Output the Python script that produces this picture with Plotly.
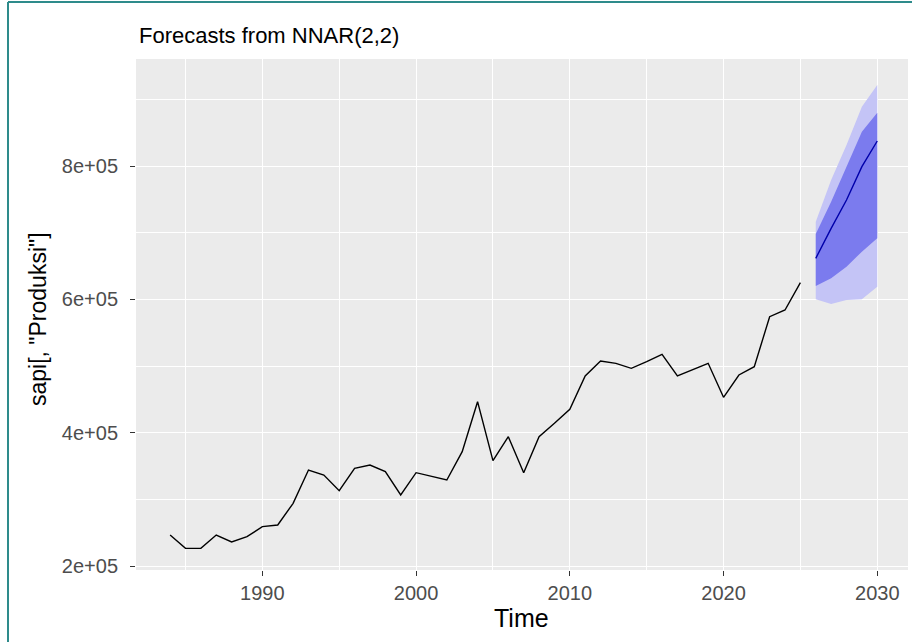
import plotly.graph_objects as go

# Historical series (sapi[, "Produksi"])
years = list(range(1984, 2026))
produksi = [246500, 226500, 226500, 246500, 236000, 244000, 259000, 261500, 294000, 344000,
            336500, 313000, 346500, 351500, 341500, 306500, 340000, 335000, 329000, 371500,
            446500, 358000, 394000, 340000, 394000, 414000, 435000, 485000, 507500, 504000,
            496500, 506500, 517500, 485000, 495000, 504000, 453000, 486500, 499000, 574000,
            584000, 625000]

# NNAR(2,2) forecasts
fc_years = [2026, 2027, 2028, 2029, 2030]
fc_mean = [661500, 706500, 749000, 799000, 837500]
lo80 = [620000, 631500, 649000, 671500, 691500]
hi80 = [698000, 746500, 799000, 851500, 880000]
lo95 = [600000, 593000, 599000, 600000, 619000]
hi95 = [716500, 779000, 831500, 889000, 921500]

y_ticks = [200000, 400000, 600000, 800000]
y_labels = ["2e+05", "4e+05", "6e+05", "8e+05"]
x_ticks = [1990, 2000, 2010, 2020, 2030]

FONT = "Liberation Sans, Arial, sans-serif"
LIGHT = "#C4C4F6"
DARK = "#7B7BEE"

W, H = 912, 642
L, R, T, B = 136, 4, 59, 72
PW, PH = W - L - R, H - T - B

fig = go.Figure()
fig.add_trace(go.Scatter(x=fc_years, y=lo95, mode="lines", line=dict(width=0),
                         showlegend=False, hoverinfo="skip"))
fig.add_trace(go.Scatter(x=fc_years, y=hi95, mode="lines", line=dict(width=0),
                         fill="tonexty", fillcolor=LIGHT, showlegend=False, hoverinfo="skip"))
fig.add_trace(go.Scatter(x=fc_years, y=lo80, mode="lines", line=dict(width=0),
                         showlegend=False, hoverinfo="skip"))
fig.add_trace(go.Scatter(x=fc_years, y=hi80, mode="lines", line=dict(width=0),
                         fill="tonexty", fillcolor=DARK, showlegend=False, hoverinfo="skip"))
fig.add_trace(go.Scatter(x=years, y=produksi, mode="lines",
                         line=dict(color="black", width=1.4), showlegend=False))
fig.add_trace(go.Scatter(x=fc_years, y=fc_mean, mode="lines",
                         line=dict(color="#0000AA", width=1.4), showlegend=False))

fig.update_layout(
    width=W, height=H,
    margin=dict(l=L, r=R, t=T, b=B, autoexpand=False),
    paper_bgcolor="white",
    plot_bgcolor="#EBEBEB",
    font=dict(family=FONT, color="#4D4D4D"),
    xaxis=dict(range=[1981.78, 2032.0], tickvals=x_ticks, showgrid=True,
               gridcolor="white", gridwidth=1.3, zeroline=False, automargin=False,
               ticks="outside", ticklen=5, tickcolor="#333333", tickwidth=1.2,
               tickfont=dict(family=FONT, size=20, color="#4D4D4D"),
               minor=dict(tickvals=[1985, 1995, 2005, 2015, 2025], showgrid=True,
                          gridcolor="white", gridwidth=0.6, ticks=""),
               showline=False),
    yaxis=dict(range=[194000, 960500], tickvals=y_ticks, ticktext=y_labels,
               showgrid=True, gridcolor="white", gridwidth=1.3, zeroline=False,
               automargin=False, ticklabelstandoff=8,
               ticks="outside", ticklen=5, tickcolor="#333333", tickwidth=1.2,
               tickfont=dict(family=FONT, size=20, color="#4D4D4D"),
               minor=dict(tickvals=[300000, 500000, 700000, 900000], showgrid=True,
                          gridcolor="white", gridwidth=0.6, ticks=""),
               showline=False),
    annotations=[
        dict(text="Forecasts from NNAR(2,2)", xref="paper", yref="paper",
             x=(137 - L) / PW, y=(H - B - 35) / PH, xanchor="left", yanchor="middle",
             showarrow=False, font=dict(family=FONT, size=22, color="black")),
        dict(text="Time", xref="paper", yref="paper",
             x=(521 - L) / PW, y=-(618 - (H - B)) / PH, xanchor="center", yanchor="middle",
             showarrow=False, font=dict(family=FONT, size=25, color="black")),
        dict(text='sapi[, "Produksi"]', xref="paper", yref="paper", textangle=-90,
             x=-(L - 38) / PW, y=(H - B - 319) / PH, xanchor="center", yanchor="middle",
             showarrow=False, font=dict(family=FONT, size=23, color="black")),
    ],
    shapes=[
        dict(type="line", xref="paper", yref="paper", x0=-(L - 8) / PW, x1=-(L - 8) / PW,
             y0=-B / PH, y1=(PH + 57) / PH, line=dict(color="#2E8B8B", width=2)),
        dict(type="line", xref="paper", yref="paper", x0=-(L - 8) / PW, x1=1.01,
             y0=(PH + 57) / PH, y1=(PH + 57) / PH, line=dict(color="#2E8B8B", width=2)),
    ],
)

fig.write_html("out.html", config={"displayModeBar": False},
               post_script="document.body.style.margin='0';document.body.style.overflow='hidden';")
